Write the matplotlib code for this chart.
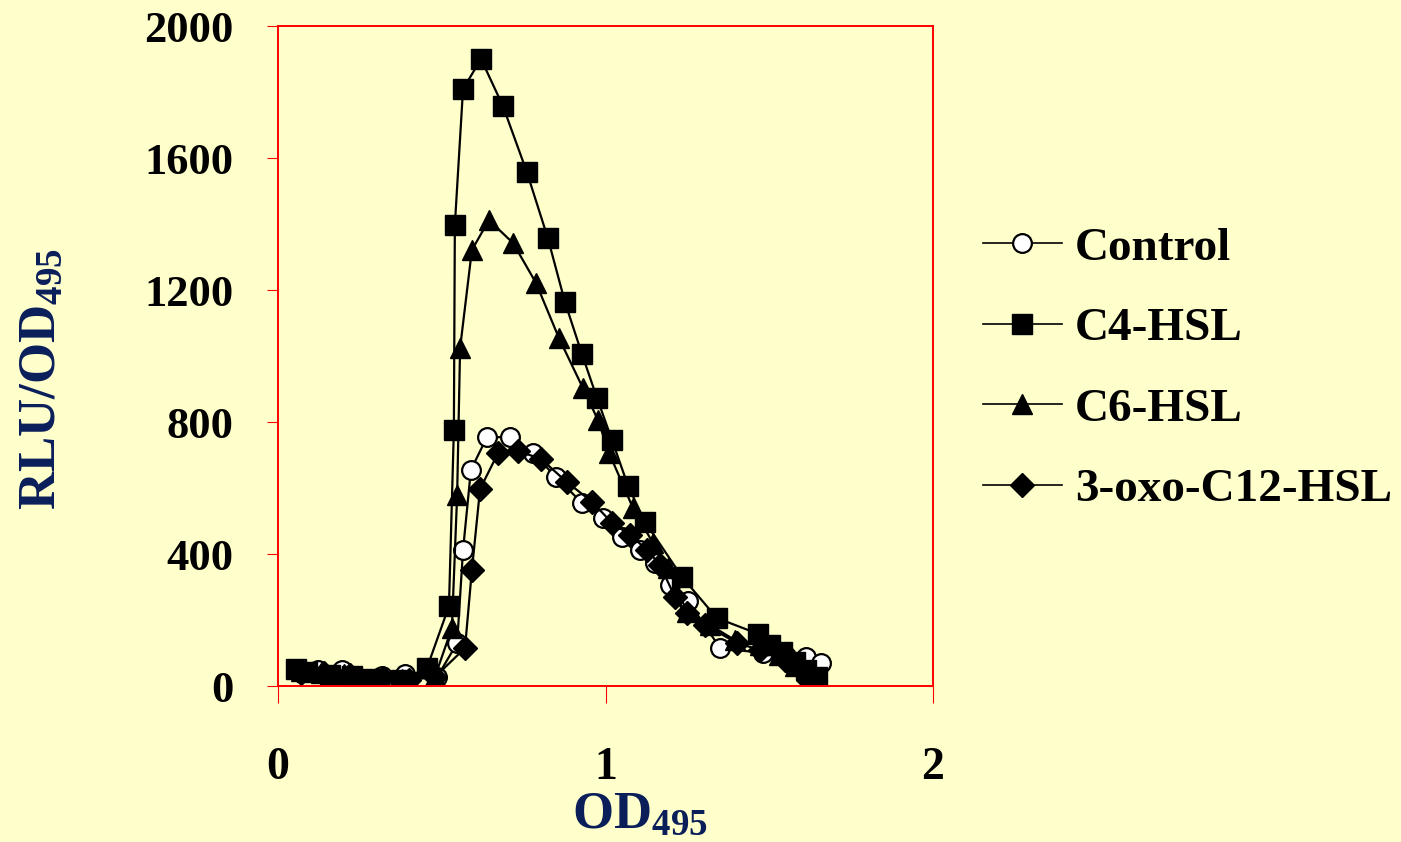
import matplotlib
matplotlib.use("Agg")
import matplotlib.pyplot as plt

# ---- data ----
control_x = [0.067, 0.122, 0.195, 0.318, 0.388, 0.486, 0.547, 0.565, 0.589, 0.638, 0.708, 0.779, 0.849,
             0.928, 0.992, 1.050, 1.105, 1.151, 1.197, 1.252, 1.350, 1.48, 1.55, 1.612, 1.658]
control_y = [42, 48, 48, 30, 36, 27, 130, 412, 655, 754, 754, 706, 633,
             555, 509, 452, 412, 373, 306, 258, 115, 100, 92, 88, 70]

c4_x = [0.055, 0.089, 0.159, 0.226, 0.284, 0.376, 0.455, 0.522, 0.537, 0.540, 0.565, 0.620, 0.687,
        0.760, 0.824, 0.876, 0.928, 0.974, 1.020, 1.069, 1.121, 1.234, 1.340, 1.466, 1.502, 1.539,
        1.579, 1.612, 1.646]
c4_y = [52, 42, 33, 30, 21, 18, 55, 242, 776, 1397, 1809, 1900, 1757,
        1557, 1357, 1164, 1006, 873, 745, 606, 497, 330, 206, 158, 124, 103,
        73, 48, 27]

c6_x = [0.07, 0.13, 0.20, 0.30, 0.38, 0.48, 0.531, 0.547, 0.556, 0.592, 0.644, 0.718, 0.788,
        0.858, 0.931, 0.977, 1.011, 1.084, 1.145, 1.191, 1.249, 1.319, 1.395, 1.472, 1.53, 1.58, 1.63]
c6_y = [45, 40, 35, 25, 20, 30, 176, 579, 1024, 1321, 1412, 1342, 1221,
        1054, 903, 806, 706, 539, 433, 358, 224, 185, 139, 124, 95, 60, 30]

oxo_x = [0.07, 0.14, 0.22, 0.32, 0.40, 0.48, 0.571, 0.592, 0.617, 0.672, 0.733, 0.803, 0.882,
         0.959, 1.020, 1.075, 1.127, 1.166, 1.212, 1.249, 1.304, 1.402, 1.472, 1.548, 1.618]
oxo_y = [40, 38, 33, 24, 18, 28, 115, 351, 597, 706, 712, 688, 618,
         558, 494, 458, 412, 367, 270, 221, 185, 130, 109, 79, 18]

labels = ["Control", "C4-HSL", "C6-HSL", "3-oxo-C12-HSL"]
x_ticks = [0, 1, 2]
y_ticks = [0, 400, 800, 1200, 1600, 2000]

# ---- style ----
BG = "#FFFFCC"
NAVY = "#0A1E5A"
SERIF = "Liberation Serif"
plt.rcParams["font.family"] = [SERIF, "DejaVu Serif"]
plt.rcParams["font.weight"] = "bold"
plt.rcParams["mathtext.fontset"] = "custom"
plt.rcParams["mathtext.rm"] = "Liberation Serif:bold"
plt.rcParams["mathtext.bf"] = "Liberation Serif:bold"
plt.rcParams["mathtext.it"] = "Liberation Serif:bold"

fig = plt.figure(figsize=(14.01, 8.42), dpi=100, facecolor=BG)
ax = fig.add_axes([278 / 1401, 1 - 686 / 842, (933 - 278) / 1401, (686 - 26) / 842])
ax.set_facecolor(BG)

lw = 1.6
ax.plot(control_x, control_y, color="black", lw=lw, marker="o", ms=13.5,
        mfc="white", mec="black", mew=1.6, label=labels[0])
ax.plot(c4_x, c4_y, color="black", lw=lw, marker="s", ms=14,
        mfc="black", mec="black", label=labels[1])
ax.plot(c6_x, c6_y, color="black", lw=lw, marker="^", ms=14.5,
        mfc="black", mec="black", label=labels[2])
ax.plot(oxo_x, oxo_y, color="black", lw=lw, marker="D", ms=12,
        mfc="black", mec="black", label=labels[3])

ax.set_xlim(0, 2)
ax.set_ylim(0, 2000)
ax.set_xticks(x_ticks)
ax.set_yticks(y_ticks)
ax.set_xticklabels([str(v) for v in x_ticks], fontsize=33, fontweight="bold")
ax.set_yticklabels([str(v) for v in y_ticks], fontsize=32, fontweight="bold")

for s in ax.spines.values():
    s.set_color("#FF0000")
    s.set_linewidth(1.4)
ax.tick_params(axis="y", direction="out", length=8, width=0.8, color="#FF0000", pad=24)
ax.tick_params(axis="x", direction="out", length=12, width=0.8, color="#FF0000", pad=32)

fig.text(640 / 1401, (842 - 828) / 842, r"$\mathbf{OD}_{\mathbf{495}}$", color=NAVY,
         fontsize=38, ha="center", va="baseline")
fig.text(42 / 1401, 1 - 379 / 842, r"$\mathbf{RLU/OD}_{\mathbf{495}}$", color=NAVY,
         fontsize=38, ha="center", va="center", rotation=90)

leg = ax.legend(loc="center left", bbox_to_anchor=(983 / 1401, 1 - 369 / 842),
                bbox_transform=fig.transFigure, frameon=False, numpoints=1,
                prop={"family": SERIF, "weight": "bold", "size": 34},
                handlelength=1.67, handletextpad=0.28, labelspacing=0.79,
                borderpad=0, borderaxespad=0)
for h in leg.get_lines():
    h.set_linewidth(1.2)

fig.savefig("out.png", dpi=100, facecolor=BG)
